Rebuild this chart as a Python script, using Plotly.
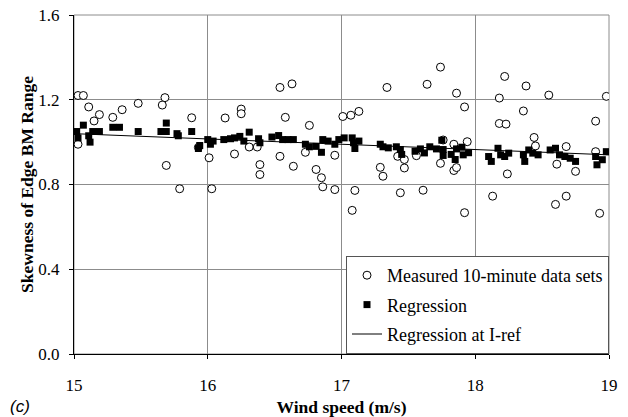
import plotly.graph_objects as go

# Measured 10-minute data sets: wind speed (m/s) and skewness
meas_ws = [15.03, 15.07, 15.11, 15.15, 15.19, 15.29, 15.36, 15.48, 15.66, 15.68,
           15.88, 15.03, 15.69, 15.79, 15.93, 16.13, 16.25, 16.25, 16.54, 16.63,
           16.58, 16.76, 16.01, 16.20, 16.31, 16.37, 16.39, 16.39, 16.54, 16.64,
           16.73, 16.81, 16.85, 16.86, 16.03, 17.34, 17.64, 17.74, 17.86, 17.01,
           17.07, 17.13, 16.95, 16.95, 17.10, 17.08, 17.29, 17.31, 17.42, 17.47,
           17.47, 17.56, 17.44, 17.61, 17.74, 17.84, 17.84, 17.86, 17.76, 17.92,
           18.22, 18.38, 18.55, 18.98, 18.18, 18.36, 18.18, 18.23, 18.90, 17.94,
           18.44, 18.45, 18.68, 18.61, 18.75, 18.24, 18.90, 18.13, 18.60, 18.68,
           17.92, 18.93]
meas_skew = [1.22, 1.22, 1.166, 1.10, 1.13, 1.117, 1.153, 1.183, 1.175, 1.21,
             1.115, 0.99, 0.89, 0.78, 0.975, 1.114, 1.156, 1.134, 1.258, 1.275,
             1.117, 1.079, 0.926, 0.944, 0.977, 0.977, 0.894, 0.847, 0.933, 0.886,
             0.952, 0.871, 0.832, 0.789, 0.780, 1.258, 1.273, 1.354, 1.231, 1.121,
             1.127, 1.145, 0.938, 0.776, 0.772, 0.678, 0.881, 0.839, 0.933, 0.918,
             0.878, 0.936, 0.761, 0.773, 0.90, 0.866, 0.99, 0.88, 1.01, 1.166,
             1.31, 1.265, 1.222, 1.216, 1.208, 1.147, 1.088, 1.085, 1.099, 1.002,
             1.022, 0.982, 0.979, 0.896, 0.862, 0.85, 0.955, 0.745, 0.706, 0.745,
             0.667, 0.664]

# Regression values at each measured data set
reg_ws = [15.02, 15.03, 15.07, 15.11, 15.12, 15.14, 15.19, 15.29, 15.34, 15.48,
          15.65, 15.69, 15.69, 15.77, 15.78, 15.88, 15.93, 15.94, 16.00, 16.02,
          16.04, 16.12, 16.17, 16.20, 16.24, 16.27, 16.31, 16.38, 16.39, 16.48,
          16.53, 16.56, 16.60, 16.64, 16.73, 16.76, 16.81, 16.85, 16.86, 16.90,
          16.95, 16.98, 17.02, 17.08, 17.09, 17.10, 17.13, 17.29, 17.31, 17.35,
          17.41, 17.44, 17.45, 17.55, 17.59, 17.62, 17.66, 17.71, 17.75, 17.76,
          17.76, 17.82, 17.85, 17.86, 17.90, 17.91, 17.95, 18.10, 18.12, 18.17,
          18.19, 18.22, 18.25, 18.36, 18.37, 18.40, 18.43, 18.47, 18.56, 18.60,
          18.63, 18.67, 18.71, 18.75, 18.90, 18.91, 18.95, 18.98]
reg_skew = [1.05, 1.02, 1.08, 1.03, 1.00, 1.05, 1.05, 1.07, 1.07, 1.05,
            1.05, 1.09, 1.05, 1.04, 1.03, 1.05, 0.97, 0.984, 1.012, 0.99,
            1.005, 1.012, 1.016, 1.02, 1.027, 1.005, 1.047, 1.016, 0.997, 1.024,
            1.031, 1.012, 1.012, 1.012, 0.99, 0.978, 0.98, 0.952, 1.012, 1.005,
            0.99, 1.012, 1.02, 1.02, 0.997, 0.97, 1.005, 0.99, 0.978, 0.973,
            0.978, 0.965, 0.942, 0.957, 0.968, 0.949, 0.978, 0.968, 1.009, 0.965,
            0.937, 0.942, 0.918, 0.968, 0.976, 0.94, 0.95, 0.932, 0.909, 0.971,
            0.94, 0.932, 0.948, 0.94, 0.909, 0.963, 0.948, 0.94, 0.963, 0.971,
            0.94, 0.932, 0.924, 0.909, 0.932, 0.893, 0.917, 0.955]

# Regression evaluated at the reference turbulence intensity
iref_ws = [15, 16, 17, 18, 19]
iref_skew = [1.040, 1.015, 0.990, 0.963, 0.940]

x_ticks = [15, 16, 17, 18, 19]
y_ticks = [0.0, 0.4, 0.8, 1.2, 1.6]
y_tick_text = ["0.0", "0.4", "0.8", "1.2", "1.6"]

serif = "Liberation Serif"
grid = "#8c8c8c"

fig = go.Figure()
fig.add_trace(go.Scatter(
    x=meas_ws, y=meas_skew, mode="markers", name="Measured 10-minute data sets",
    legendgroup="a",
    marker=dict(symbol="circle", size=8, color="white",
                line=dict(color="black", width=1)),
))
fig.add_trace(go.Scatter(
    x=reg_ws, y=reg_skew, mode="markers", name="Regression",
    legendgroup="b",
    marker=dict(symbol="square", size=7, color="black",
                line=dict(color="black", width=0)),
))
fig.add_trace(go.Scatter(
    x=iref_ws, y=iref_skew, mode="lines", name="Regression at I-ref",
    legendgroup="c",
    line=dict(color="black", width=1),
))

fig.update_layout(
    width=628, height=417,
    margin=dict(l=74, r=19, t=15, b=63),
    paper_bgcolor="white", plot_bgcolor="white",
    font=dict(family=serif, size=17, color="black"),
    showlegend=True,
    legend=dict(
        x=1, y=0, xanchor="right", yanchor="bottom",
        bgcolor="white", bordercolor="#555", borderwidth=1,
        font=dict(family=serif, size=18, color="black"),
        traceorder="grouped", tracegroupgap=3,
        itemwidth=30,
    ),
    xaxis=dict(
        range=[15, 19], tickvals=x_ticks, ticktext=[str(t) for t in x_ticks],
        showgrid=True, gridcolor=grid, gridwidth=1,
        showline=True, linecolor="black", linewidth=1,
        ticks="outside", ticklen=4, tickcolor="black",
        ticklabelstandoff=12, automargin=False,
        zeroline=False,
        title=dict(text="<b>Wind speed (m/s)</b>", font=dict(family=serif, size=17.5),
                   standoff=6),
    ),
    yaxis=dict(
        range=[0, 1.6], tickvals=y_ticks, ticktext=y_tick_text,
        showgrid=True, gridcolor=grid, gridwidth=1,
        showline=True, linecolor="black", linewidth=1,
        ticks="outside", ticklen=4, tickcolor="black",
        ticklabelstandoff=6, automargin=False,
        zeroline=False,
        title=dict(text="<b>Skewness of Edge BM Range</b>",
                   font=dict(family=serif, size=17.5), standoff=0),
    ),
    shapes=[dict(type="rect", xref="paper", yref="paper", x0=0, y0=0, x1=1, y1=1,
                 line=dict(color=grid, width=1), layer="below")],
    annotations=[dict(text="<i>(c)</i>", xref="paper", yref="paper",
                      x=-0.123, y=-0.156, xanchor="left", yanchor="middle",
                      showarrow=False,
                      font=dict(family="Liberation Sans", size=17, color="black"))],
)

fig.write_html("out.html")
